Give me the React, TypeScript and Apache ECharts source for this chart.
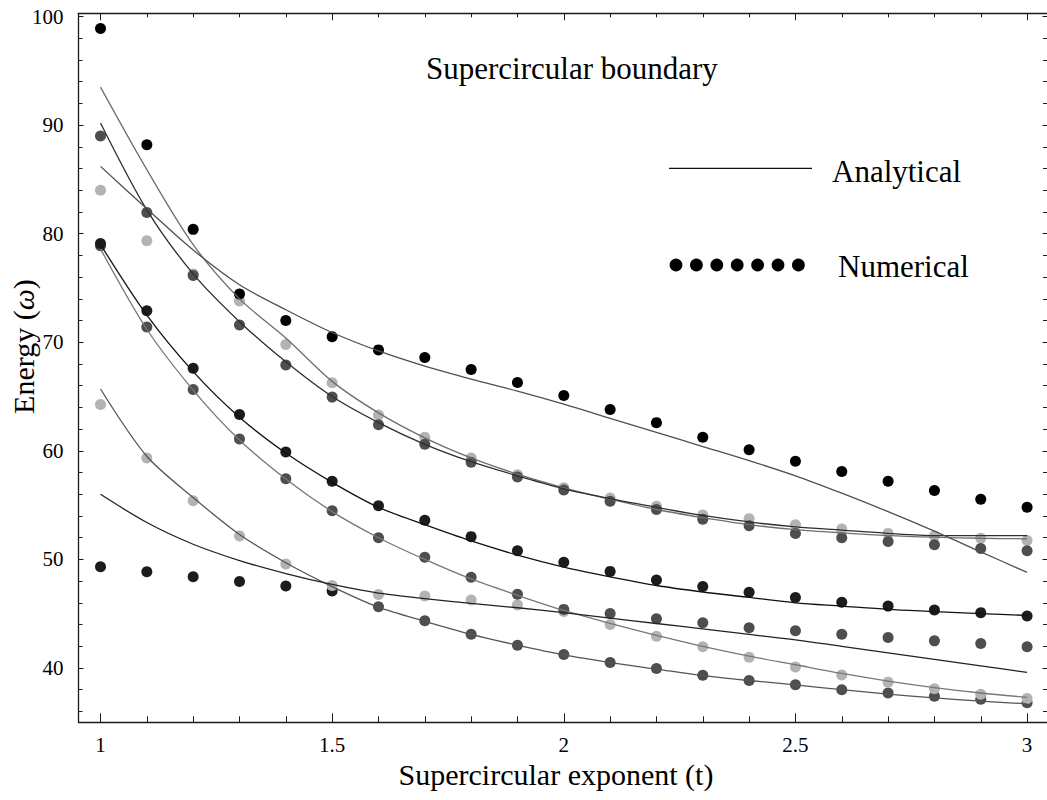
import React, { useEffect, useRef } from 'react';
import * as echarts from 'echarts';

// ---------- data ----------
const T = [1.0, 1.1, 1.2, 1.3, 1.4, 1.5, 1.6, 1.7, 1.8, 1.9, 2.0, 2.1, 2.2, 2.3, 2.4, 2.5, 2.6, 2.7, 2.8, 2.9, 3.0];

// numerical results (dots)
const numA = [98.9, 88.2, 80.4, 74.45, 72.0, 70.5, 69.3, 68.6, 67.5, 66.3, 65.1, 63.8, 62.6, 61.25, 60.1, 59.05, 58.1, 57.2, 56.35, 55.55, 54.8];
const numB = [89.0, 81.95, 76.15, 71.6, 67.9, 64.95, 62.4, 60.6, 58.95, 57.6, 56.4, 55.35, 54.6, 53.7, 53.1, 52.4, 52.0, 51.65, 51.35, 51.0, 50.8];
const numC = [84.0, 79.35, 76.3, 73.8, 69.8, 66.27, 63.3, 61.25, 59.35, 57.8, 56.6, 55.65, 54.9, 54.1, 53.75, 53.2, 52.8, 52.4, 52.15, 51.95, 51.75];
const numD = [79.1, 72.9, 67.6, 63.35, 59.9, 57.2, 54.95, 53.6, 52.1, 50.8, 49.75, 48.9, 48.1, 47.5, 46.97, 46.5, 46.05, 45.7, 45.35, 45.1, 44.8];
const numE = [78.9, 71.4, 65.65, 61.1, 57.43, 54.48, 52.0, 50.2, 48.36, 46.8, 45.4, 45.03, 44.53, 44.16, 43.7, 43.43, 43.1, 42.8, 42.5, 42.26, 41.95];
const numF = [64.27, 59.34, 55.4, 52.17, 49.58, 47.6, 46.78, 46.63, 46.26, 45.8, 45.2, 44.0, 42.93, 41.95, 41.0, 40.1, 39.36, 38.7, 38.1, 37.58, 37.2];
const numG = [49.33, 48.87, 48.4, 47.96, 47.55, 47.1, 45.64, 44.35, 43.1, 42.1, 41.25, 40.5, 39.95, 39.33, 38.86, 38.46, 38.0, 37.7, 37.4, 37.12, 36.8];

// analytical curves (lines)
const ana1 = [93.5, 85.9, 79.0, 74.0, 70.4, 66.4, 63.5, 61.2, 59.35, 57.85, 56.6, 55.55, 54.6, 53.85, 53.2, 52.75, 52.45, 52.2, 52.05, 51.95, 51.9];
const ana2 = [90.2, 82.2, 76.3, 71.9, 68.2, 65.0, 62.6, 60.6, 59.0, 57.7, 56.5, 55.6, 54.8, 54.05, 53.45, 53.0, 52.7, 52.4, 52.2, 52.2, 52.2];
const ana3 = [86.2, 82.3, 78.5, 75.3, 73.0, 70.9, 69.2, 67.8, 66.6, 65.5, 64.3, 63.0, 61.7, 60.4, 59.1, 57.7, 56.1, 54.4, 52.6, 50.7, 48.8];
const ana4 = [79.0, 72.5, 67.3, 63.1, 59.8, 57.1, 54.8, 53.2, 51.7, 50.4, 49.3, 48.4, 47.6, 47.0, 46.5, 46.0, 45.7, 45.4, 45.2, 45.0, 44.85];
const ana5 = [78.6, 71.2, 65.6, 61.0, 57.4, 54.4, 52.0, 50.0, 48.2, 46.7, 45.3, 44.1, 43.0, 42.0, 41.1, 40.3, 39.5, 38.8, 38.2, 37.7, 37.3];
const ana6 = [65.7, 59.5, 55.7, 52.3, 49.7, 47.5, 45.6, 44.3, 43.1, 42.1, 41.2, 40.5, 39.9, 39.3, 38.85, 38.45, 38.0, 37.6, 37.25, 36.95, 36.7];
const ana7 = [56.0, 53.4, 51.4, 49.9, 48.7, 47.7, 46.9, 46.4, 45.95, 45.55, 45.1, 44.6, 44.1, 43.6, 43.1, 42.6, 42.0, 41.4, 40.8, 40.2, 39.6];

// ticks
const X_MAJOR = [1, 1.5, 2, 2.5, 3];
const X_MINOR = [1.1, 1.2, 1.3, 1.4, 1.6, 1.7, 1.8, 1.9, 2.1, 2.2, 2.3, 2.4, 2.6, 2.7, 2.8, 2.9];
const Y_MAJOR = [40, 50, 60, 70, 80, 90, 100];
const Y_MINOR = [36, 38, 42, 44, 46, 48, 52, 54, 56, 58, 62, 64, 66, 68, 72, 74, 76, 78, 82, 84, 86, 88, 92, 94, 96, 98];

const X_MIN = 0.9525;
const X_MAX = 3.043;
const Y_MIN = 35;
const Y_MAX = 100.3;

const FONT = 'Liberation Serif';
const BLACK = '#000000';
const NEAR_BLACK = '#1c1c1c';
const DARK = '#4e4e4e';
const LIGHT = '#b3b3b3';

const pairs = (ys: number[]) => T.map((t, i) => [t, ys[i]]);

export default function App() {
  const ref = useRef<HTMLDivElement>(null);

  useEffect(() => {
    document.body.style.margin = '0';
    const chart = echarts.init(ref.current as HTMLDivElement, null, { renderer: 'svg' });

    const gridBox = { left: 78.5, top: 13.3, width: 968.5, height: 709 };
    const axisLine = { show: true, onZero: false, lineStyle: { color: '#1a1a1a', width: 1.3 } };
    const tickStyle = { color: '#1a1a1a', width: 1 };

    const xAxisBase = { type: 'value', min: X_MIN, max: X_MAX, splitLine: { show: false } };
    const yAxisBase = { type: 'value', min: Y_MIN, max: Y_MAX, splitLine: { show: false } };

    const scatter = (name: string, ys: number[], color: string | ((i: number) => string)) => ({
      name,
      type: 'scatter',
      xAxisIndex: 0,
      yAxisIndex: 0,
      symbol: 'circle',
      symbolSize: 11,
      z: 2,
      itemStyle: { opacity: 1 },
      data: pairs(ys).map((p, i) => ({
        value: p,
        itemStyle: { color: typeof color === 'function' ? color(i) : color, opacity: 1 },
      })),
    });

    const line = (name: string, ys: number[], color: string) => ({
      name,
      type: 'line',
      xAxisIndex: 0,
      yAxisIndex: 0,
      showSymbol: false,
      smooth: 0.3,
      z: 3,
      lineStyle: { color, width: 1.3 },
      data: pairs(ys),
    });

    const option: any = {
      animation: false,
      backgroundColor: '#ffffff',
      grid: [gridBox, gridBox],
      xAxis: [
        {
          ...xAxisBase,
          gridIndex: 0,
          position: 'bottom',
          axisLine,
          axisTick: { show: true, inside: true, length: 9, customValues: X_MAJOR, lineStyle: tickStyle },
          axisLabel: { show: true, customValues: X_MAJOR, fontFamily: FONT, fontSize: 21, color: '#000', margin: 12 },
        },
        {
          ...xAxisBase,
          gridIndex: 0,
          position: 'top',
          axisLine,
          axisTick: { show: true, inside: true, length: 7, customValues: X_MAJOR, lineStyle: tickStyle },
          axisLabel: { show: false },
        },
        {
          ...xAxisBase,
          gridIndex: 1,
          position: 'bottom',
          axisLine: { show: false },
          axisTick: { show: true, inside: true, length: 6, customValues: X_MINOR, lineStyle: tickStyle },
          axisLabel: { show: false },
        },
        {
          ...xAxisBase,
          gridIndex: 1,
          position: 'top',
          axisLine: { show: false },
          axisTick: { show: true, inside: true, length: 4, customValues: X_MINOR, lineStyle: tickStyle },
          axisLabel: { show: false },
        },
      ],
      yAxis: [
        {
          ...yAxisBase,
          gridIndex: 0,
          position: 'left',
          axisLine,
          axisTick: { show: true, inside: true, length: 5, customValues: Y_MAJOR, lineStyle: tickStyle },
          axisLabel: { show: true, customValues: Y_MAJOR, fontFamily: FONT, fontSize: 21, color: '#000', margin: 15 },
        },
        {
          ...yAxisBase,
          gridIndex: 0,
          position: 'right',
          axisLine: { show: false },
          axisTick: { show: true, inside: true, length: 4.5, customValues: Y_MAJOR, lineStyle: tickStyle },
          axisLabel: { show: false },
        },
        {
          ...yAxisBase,
          gridIndex: 1,
          position: 'left',
          axisLine: { show: false },
          axisTick: { show: true, inside: true, length: 4, customValues: Y_MINOR, lineStyle: tickStyle },
          axisLabel: { show: false },
        },
        {
          ...yAxisBase,
          gridIndex: 1,
          position: 'right',
          axisLine: { show: false },
          axisTick: { show: true, inside: true, length: 4, customValues: Y_MINOR, lineStyle: tickStyle },
          axisLabel: { show: false },
        },
      ],
      series: [
        scatter('num7', numG, (i: number) => (i <= 5 ? NEAR_BLACK : DARK)),
        scatter('num6', numF, LIGHT),
        scatter('num5', numE, DARK),
        scatter('num4', numD, NEAR_BLACK),
        scatter('num3', numC, LIGHT),
        scatter('num2', numB, DARK),
        scatter('num1', numA, BLACK),
        line('ana1', ana1, '#6e6e6e'),
        line('ana2', ana2, '#2e2e2e'),
        line('ana3', ana3, '#505050'),
        line('ana4', ana4, '#111111'),
        line('ana5', ana5, '#777777'),
        line('ana6', ana6, '#555555'),
        line('ana7', ana7, '#222222'),
      ],
      graphic: [
        {
          type: 'text',
          x: 426,
          y: 68.8,
          style: { text: 'Supercircular boundary', fontFamily: FONT, fontSize: 31, fill: '#000', align: 'left', verticalAlign: 'middle' },
        },
        {
          type: 'line',
          shape: { x1: 669, y1: 168.3, x2: 812, y2: 168.3 },
          style: { stroke: '#111', lineWidth: 1.3 },
        },
        {
          type: 'text',
          x: 832,
          y: 171.2,
          style: { text: 'Analytical', fontFamily: FONT, fontSize: 31, fill: '#000', align: 'left', verticalAlign: 'middle' },
        },
        ...[0, 1, 2, 3, 4, 5, 6].map((i) => ({
          type: 'circle',
          shape: { cx: 676 + i * 20.4, cy: 265, r: 6.4 },
          style: { fill: '#000' },
        })),
        {
          type: 'text',
          x: 838,
          y: 266.2,
          style: { text: 'Numerical', fontFamily: FONT, fontSize: 31, fill: '#000', align: 'left', verticalAlign: 'middle' },
        },
        {
          type: 'text',
          x: 556,
          y: 774,
          style: { text: 'Supercircular exponent (t)', fontFamily: FONT, fontSize: 30, fill: '#000', align: 'center', verticalAlign: 'middle' },
        },
        {
          type: 'text',
          x: 23.5,
          y: 346.5,
          rotation: Math.PI / 2,
          style: {
            text: '{n|Energy (}{w|ω}{n|)}',
            align: 'center',
            verticalAlign: 'middle',
            rich: {
              n: { fontFamily: FONT, fontSize: 30, fill: '#000' },
              w: { fontFamily: FONT, fontSize: 30, fontStyle: 'italic', fill: '#000' },
            },
          },
        },
      ],
    };

    chart.setOption(option);
    return () => chart.dispose();
  }, []);

  return <div ref={ref} style={{ width: 1047, height: 800, position: 'absolute', left: 0, top: 0 }} />;
}
